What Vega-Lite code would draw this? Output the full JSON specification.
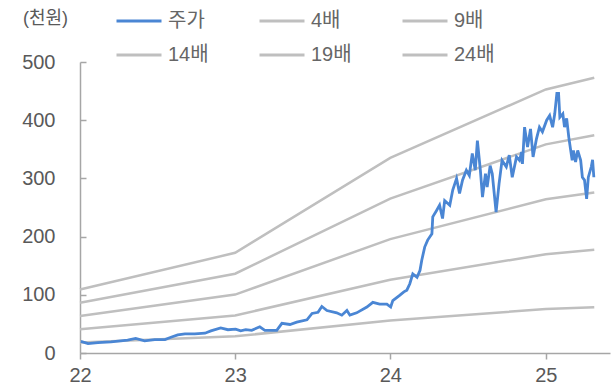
{
  "$schema": "https://vega.github.io/schema/vega-lite/v6.json",
  "autosize": "none",
  "width": 530,
  "height": 291,
  "padding": {"left": 80, "top": 62, "right": 6, "bottom": 35},
  "background": "white",
  "config": {
    "view": {"stroke": null},
    "font": "Liberation Sans, Noto Sans CJK KR",
    "axis": {"labelFont": "Liberation Sans, Noto Sans CJK KR", "labelFontSize": 20, "labelColor": "#595959", "domainColor": "#A6A6A6", "tickColor": "#A6A6A6", "domainWidth": 1.5, "tickWidth": 1.5, "grid": false},
    "legend": {"labelFont": "Liberation Sans, Noto Sans CJK KR", "labelFontSize": 20, "labelColor": "#666666", "labelFontWeight": "normal"}
  },
  "datasets": {
    "band": [
      {"date": "2022-01-01", "series": "4배", "value": 18.2},
      {"date": "2023-01-01", "series": "4배", "value": 28.7},
      {"date": "2024-01-01", "series": "4배", "value": 55.9},
      {"date": "2025-01-01", "series": "4배", "value": 75.5},
      {"date": "2025-04-25", "series": "4배", "value": 78.8},
      {"date": "2022-01-01", "series": "9배", "value": 40.9},
      {"date": "2023-01-01", "series": "9배", "value": 64.5},
      {"date": "2024-01-01", "series": "9배", "value": 125.7},
      {"date": "2025-01-01", "series": "9배", "value": 169.8},
      {"date": "2025-04-25", "series": "9배", "value": 177.3},
      {"date": "2022-01-01", "series": "14배", "value": 63.6},
      {"date": "2023-01-01", "series": "14배", "value": 100.4},
      {"date": "2024-01-01", "series": "14배", "value": 195.6},
      {"date": "2025-01-01", "series": "14배", "value": 264.2},
      {"date": "2025-04-25", "series": "14배", "value": 275.8},
      {"date": "2022-01-01", "series": "19배", "value": 86.3},
      {"date": "2023-01-01", "series": "19배", "value": 136.2},
      {"date": "2024-01-01", "series": "19배", "value": 265.4},
      {"date": "2025-01-01", "series": "19배", "value": 358.5},
      {"date": "2025-04-25", "series": "19배", "value": 374.3},
      {"date": "2022-01-01", "series": "24배", "value": 109},
      {"date": "2023-01-01", "series": "24배", "value": 172.1},
      {"date": "2024-01-01", "series": "24배", "value": 335.3},
      {"date": "2025-01-01", "series": "24배", "value": 452.9},
      {"date": "2025-04-25", "series": "24배", "value": 472.8}
    ],
    "price": [
      {"date": "2022-01-03", "series": "주가", "value": 20},
      {"date": "2022-01-20", "series": "주가", "value": 16},
      {"date": "2022-02-12", "series": "주가", "value": 18},
      {"date": "2022-03-15", "series": "주가", "value": 19},
      {"date": "2022-04-23", "series": "주가", "value": 22},
      {"date": "2022-05-12", "series": "주가", "value": 25},
      {"date": "2022-06-02", "series": "주가", "value": 21},
      {"date": "2022-06-26", "series": "주가", "value": 23},
      {"date": "2022-07-20", "series": "주가", "value": 23},
      {"date": "2022-08-03", "series": "주가", "value": 27},
      {"date": "2022-08-19", "series": "주가", "value": 31},
      {"date": "2022-09-05", "series": "주가", "value": 33},
      {"date": "2022-09-28", "series": "주가", "value": 33},
      {"date": "2022-10-22", "series": "주가", "value": 34},
      {"date": "2022-11-05", "series": "주가", "value": 38},
      {"date": "2022-11-28", "series": "주가", "value": 43},
      {"date": "2022-12-15", "series": "주가", "value": 40},
      {"date": "2023-01-02", "series": "주가", "value": 41},
      {"date": "2023-01-14", "series": "주가", "value": 38},
      {"date": "2023-01-26", "series": "주가", "value": 40},
      {"date": "2023-02-09", "series": "주가", "value": 39},
      {"date": "2023-02-28", "series": "주가", "value": 45},
      {"date": "2023-03-12", "series": "주가", "value": 39},
      {"date": "2023-04-09", "series": "주가", "value": 39},
      {"date": "2023-04-21", "series": "주가", "value": 51},
      {"date": "2023-05-10", "series": "주가", "value": 49},
      {"date": "2023-05-26", "series": "주가", "value": 53},
      {"date": "2023-06-19", "series": "주가", "value": 57},
      {"date": "2023-07-01", "series": "주가", "value": 68},
      {"date": "2023-07-15", "series": "주가", "value": 70},
      {"date": "2023-07-24", "series": "주가", "value": 80},
      {"date": "2023-08-05", "series": "주가", "value": 73},
      {"date": "2023-08-28", "series": "주가", "value": 69},
      {"date": "2023-09-09", "series": "주가", "value": 65},
      {"date": "2023-09-21", "series": "주가", "value": 73},
      {"date": "2023-09-28", "series": "주가", "value": 65},
      {"date": "2023-10-14", "series": "주가", "value": 69},
      {"date": "2023-10-21", "series": "주가", "value": 72},
      {"date": "2023-11-07", "series": "주가", "value": 79},
      {"date": "2023-11-21", "series": "주가", "value": 87},
      {"date": "2023-12-07", "series": "주가", "value": 84},
      {"date": "2023-12-24", "series": "주가", "value": 84},
      {"date": "2024-01-02", "series": "주가", "value": 79},
      {"date": "2024-01-07", "series": "주가", "value": 90},
      {"date": "2024-01-23", "series": "주가", "value": 99},
      {"date": "2024-02-02", "series": "주가", "value": 105},
      {"date": "2024-02-09", "series": "주가", "value": 108},
      {"date": "2024-02-16", "series": "주가", "value": 119},
      {"date": "2024-02-23", "series": "주가", "value": 136},
      {"date": "2024-03-04", "series": "주가", "value": 130},
      {"date": "2024-03-11", "series": "주가", "value": 142},
      {"date": "2024-03-15", "series": "주가", "value": 159},
      {"date": "2024-03-22", "series": "주가", "value": 182},
      {"date": "2024-03-29", "series": "주가", "value": 194},
      {"date": "2024-04-08", "series": "주가", "value": 205},
      {"date": "2024-04-10", "series": "주가", "value": 234},
      {"date": "2024-04-19", "series": "주가", "value": 245},
      {"date": "2024-04-26", "series": "주가", "value": 254},
      {"date": "2024-05-03", "series": "주가", "value": 231},
      {"date": "2024-05-08", "series": "주가", "value": 262},
      {"date": "2024-05-20", "series": "주가", "value": 254},
      {"date": "2024-05-27", "series": "주가", "value": 280},
      {"date": "2024-06-05", "series": "주가", "value": 300},
      {"date": "2024-06-12", "series": "주가", "value": 274},
      {"date": "2024-06-19", "series": "주가", "value": 297},
      {"date": "2024-06-28", "series": "주가", "value": 314},
      {"date": "2024-07-05", "series": "주가", "value": 305},
      {"date": "2024-07-12", "series": "주가", "value": 343},
      {"date": "2024-07-19", "series": "주가", "value": 314},
      {"date": "2024-07-24", "series": "주가", "value": 365},
      {"date": "2024-07-31", "series": "주가", "value": 314},
      {"date": "2024-08-05", "series": "주가", "value": 268},
      {"date": "2024-08-12", "series": "주가", "value": 308},
      {"date": "2024-08-16", "series": "주가", "value": 285},
      {"date": "2024-08-23", "series": "주가", "value": 322},
      {"date": "2024-08-28", "series": "주가", "value": 308},
      {"date": "2024-09-06", "series": "주가", "value": 242},
      {"date": "2024-09-13", "series": "주가", "value": 291},
      {"date": "2024-09-20", "series": "주가", "value": 331},
      {"date": "2024-09-30", "series": "주가", "value": 320},
      {"date": "2024-10-07", "series": "주가", "value": 340},
      {"date": "2024-10-14", "series": "주가", "value": 302},
      {"date": "2024-10-24", "series": "주가", "value": 337},
      {"date": "2024-10-31", "series": "주가", "value": 331},
      {"date": "2024-11-05", "series": "주가", "value": 345},
      {"date": "2024-11-07", "series": "주가", "value": 325},
      {"date": "2024-11-12", "series": "주가", "value": 388},
      {"date": "2024-11-19", "series": "주가", "value": 354},
      {"date": "2024-11-26", "series": "주가", "value": 385},
      {"date": "2024-12-02", "series": "주가", "value": 337},
      {"date": "2024-12-10", "series": "주가", "value": 368},
      {"date": "2024-12-17", "series": "주가", "value": 388},
      {"date": "2024-12-24", "series": "주가", "value": 380},
      {"date": "2025-01-03", "series": "주가", "value": 400},
      {"date": "2025-01-10", "series": "주가", "value": 408},
      {"date": "2025-01-17", "series": "주가", "value": 388},
      {"date": "2025-01-22", "series": "주가", "value": 411},
      {"date": "2025-01-27", "series": "주가", "value": 446},
      {"date": "2025-01-31", "series": "주가", "value": 446},
      {"date": "2025-02-03", "series": "주가", "value": 405},
      {"date": "2025-02-10", "series": "주가", "value": 411},
      {"date": "2025-02-14", "series": "주가", "value": 388},
      {"date": "2025-02-19", "series": "주가", "value": 403},
      {"date": "2025-02-24", "series": "주가", "value": 371},
      {"date": "2025-03-04", "series": "주가", "value": 331},
      {"date": "2025-03-07", "series": "주가", "value": 348},
      {"date": "2025-03-12", "series": "주가", "value": 328},
      {"date": "2025-03-17", "series": "주가", "value": 348},
      {"date": "2025-03-24", "series": "주가", "value": 331},
      {"date": "2025-03-28", "series": "주가", "value": 302},
      {"date": "2025-04-02", "series": "주가", "value": 297},
      {"date": "2025-04-07", "series": "주가", "value": 265},
      {"date": "2025-04-11", "series": "주가", "value": 302},
      {"date": "2025-04-18", "series": "주가", "value": 320},
      {"date": "2025-04-21", "series": "주가", "value": 332},
      {"date": "2025-04-24", "series": "주가", "value": 302}
    ]
  },
  "encoding": {
    "x": {
      "field": "date", "type": "temporal",
      "scale": {"domain": [{"year": 2022, "month": 1, "date": 1}, {"year": 2025, "month": 6, "date": 1}]},
      "axis": {
        "title": null, "format": "%y",
        "values": [{"year": 2022, "month": 1, "date": 1}, {"year": 2023, "month": 1, "date": 1}, {"year": 2024, "month": 1, "date": 1}, {"year": 2025, "month": 1, "date": 1}],
        "tickSize": 6, "labelPadding": 6, "labelFlush": false
      }
    },
    "y": {
      "field": "value", "type": "quantitative",
      "scale": {"domain": [0, 500], "nice": false},
      "axis": {
        "values": [0, 100, 200, 300, 400, 500],
        "title": "(천원)", "titleAngle": 0, "titleX": -35, "titleY": -44,
        "titleAlign": "center", "titleBaseline": "middle",
        "titleFont": "Liberation Sans, Noto Sans CJK KR", "titleFontSize": 18, "titleFontWeight": "normal", "titleColor": "#595959",
        "tickSize": -6, "labelPadding": 31
      }
    },
    "color": {
      "field": "series", "type": "nominal",
      "scale": {"domain": ["주가", "4배", "9배", "14배", "19배", "24배"], "range": ["#4A86D4", "#BFBFBF", "#BFBFBF", "#BFBFBF", "#BFBFBF", "#BFBFBF"]},
      "legend": {
        "title": null, "orient": "none", "legendX": 35, "legendY": -65,
        "direction": "horizontal", "columns": 3, "gridAlign": "all",
        "columnPadding": 44, "rowPadding": -6, "padding": 0,
        "symbolType": "stroke", "symbolSize": 2025, "symbolStrokeWidth": 3, "labelOffset": 5
      }
    }
  },
  "layer": [
    {"data": {"name": "band"}, "mark": {"type": "line", "strokeWidth": 2.5}},
    {"data": {"name": "price"}, "mark": {"type": "line", "strokeWidth": 2.8}}
  ]
}
